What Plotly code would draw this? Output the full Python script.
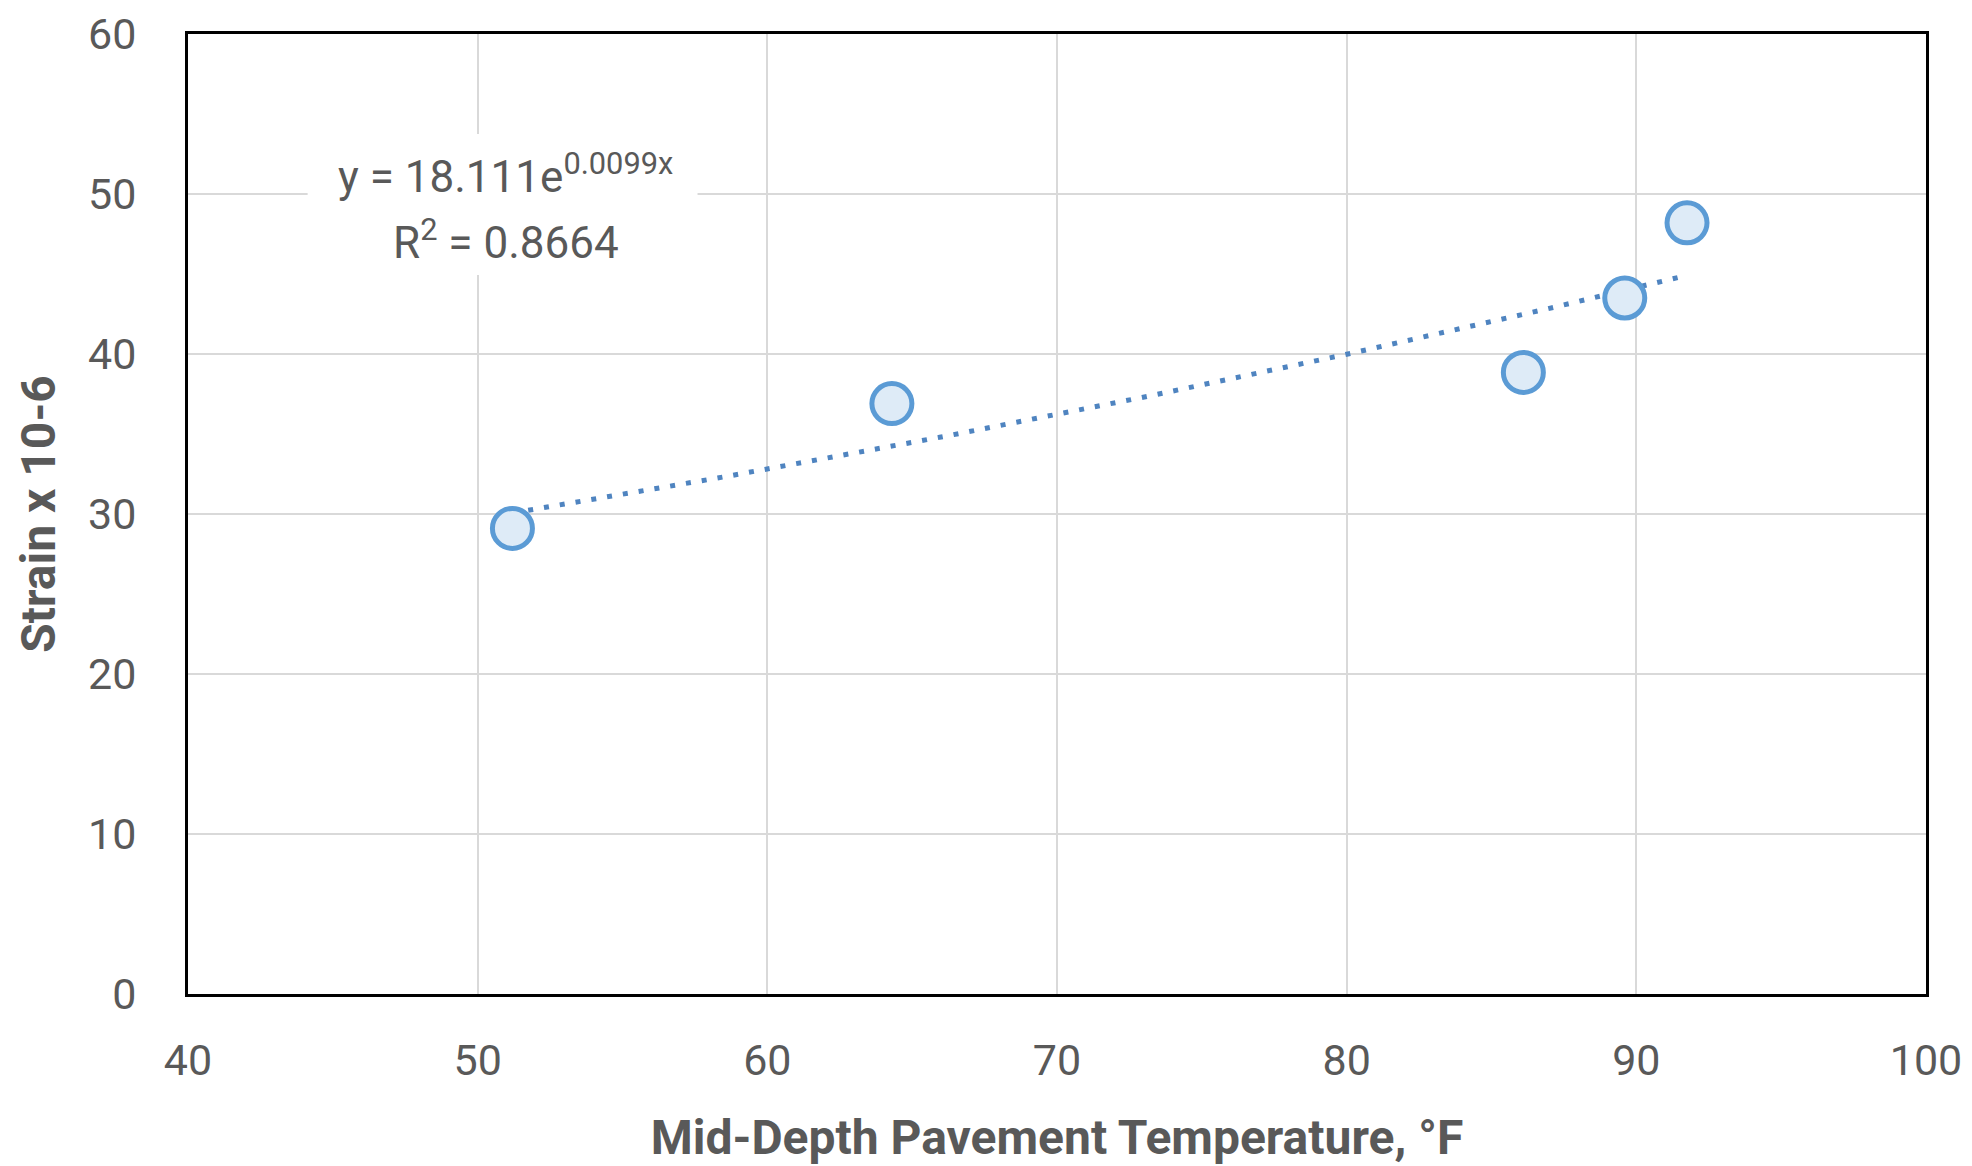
import plotly.graph_objects as go
import numpy as np

# Data
temperature_f = [51.2, 64.3, 86.1, 89.6, 91.75]
strain = [29.1, 36.9, 38.85, 43.5, 48.2]

# Trendline (exponential, as displayed in the chart label)
trend_a = 18.111
trend_b = 0.0099
r_squared = 0.8664

x_ticks = [40, 50, 60, 70, 80, 90, 100]
y_ticks = [0, 10, 20, 30, 40, 50, 60]

x_title = "Mid-Depth Pavement Temperature, °F"
y_title = "Strain x 10-6"

GRAY = "#595959"
BLUE = "#5B9BD5"
FONT = "Roboto"

tx = np.linspace(min(temperature_f), max(temperature_f), 100)
ty = trend_a * np.exp(trend_b * tx)

fig = go.Figure()
fig.add_trace(go.Scatter(
    x=tx, y=ty, mode="lines",
    line=dict(color="#4F84C0", width=5, dash="5px,11px"),
    hoverinfo="skip", showlegend=False,
))
fig.add_trace(go.Scatter(
    x=temperature_f, y=strain, mode="markers",
    marker=dict(size=40, color="#DEEBF7", line=dict(color=BLUE, width=5)),
    showlegend=False,
))

# white label box hiding grid lines behind the trendline label
fig.add_shape(type="rect", xref="x", yref="y", x0=44.13, x1=57.59, y0=44.94, y1=53.75,
              fillcolor="white", line=dict(width=0), layer="between")
fig.add_annotation(
    x=50.97, y=51.25, xref="x", yref="y",
    text=f"y = {trend_a}e<sup>{trend_b}x</sup>",
    showarrow=False, font=dict(family=FONT, size=44, color=GRAY),
)
fig.add_annotation(
    x=50.97, y=47.1, xref="x", yref="y",
    text=f"R<sup>2</sup> = {r_squared}",
    showarrow=False, font=dict(family=FONT, size=44, color=GRAY),
)

fig.update_layout(
    width=1972, height=1166, autosize=False,
    margin=dict(l=188, r=46, t=34, b=172, autoexpand=False),
    paper_bgcolor="white", plot_bgcolor="white",
    font=dict(family=FONT, color=GRAY),
)
fig.update_xaxes(
    range=[40, 100], tickvals=x_ticks, ticks="",
    tickfont=dict(family=FONT, size=43, color=GRAY),
    showgrid=True, gridcolor="#D9D9D9", gridwidth=2,
    showline=True, linecolor="black", linewidth=3, mirror=True,
    zeroline=False, ticklabelstandoff=26, ticklabeloverflow="allow",
    automargin=False,
    title=dict(text=f"<b>{x_title}</b>", font=dict(family=FONT, size=48, color=GRAY), standoff=43),
)
fig.update_yaxes(
    range=[0, 60], tickvals=y_ticks, ticks="",
    tickfont=dict(family=FONT, size=43, color=GRAY),
    showgrid=True, gridcolor="#D9D9D9", gridwidth=2,
    showline=True, linecolor="black", linewidth=3, mirror=True,
    zeroline=False, ticklabelstandoff=40, ticklabeloverflow="allow",
    automargin=False,
    title=dict(text=f"<b>{y_title}</b>", font=dict(family=FONT, size=48, color=GRAY), standoff=18),
)

fig.write_html("out.html", config={"displayModeBar": False},
               post_script="document.body.style.margin='0';")
